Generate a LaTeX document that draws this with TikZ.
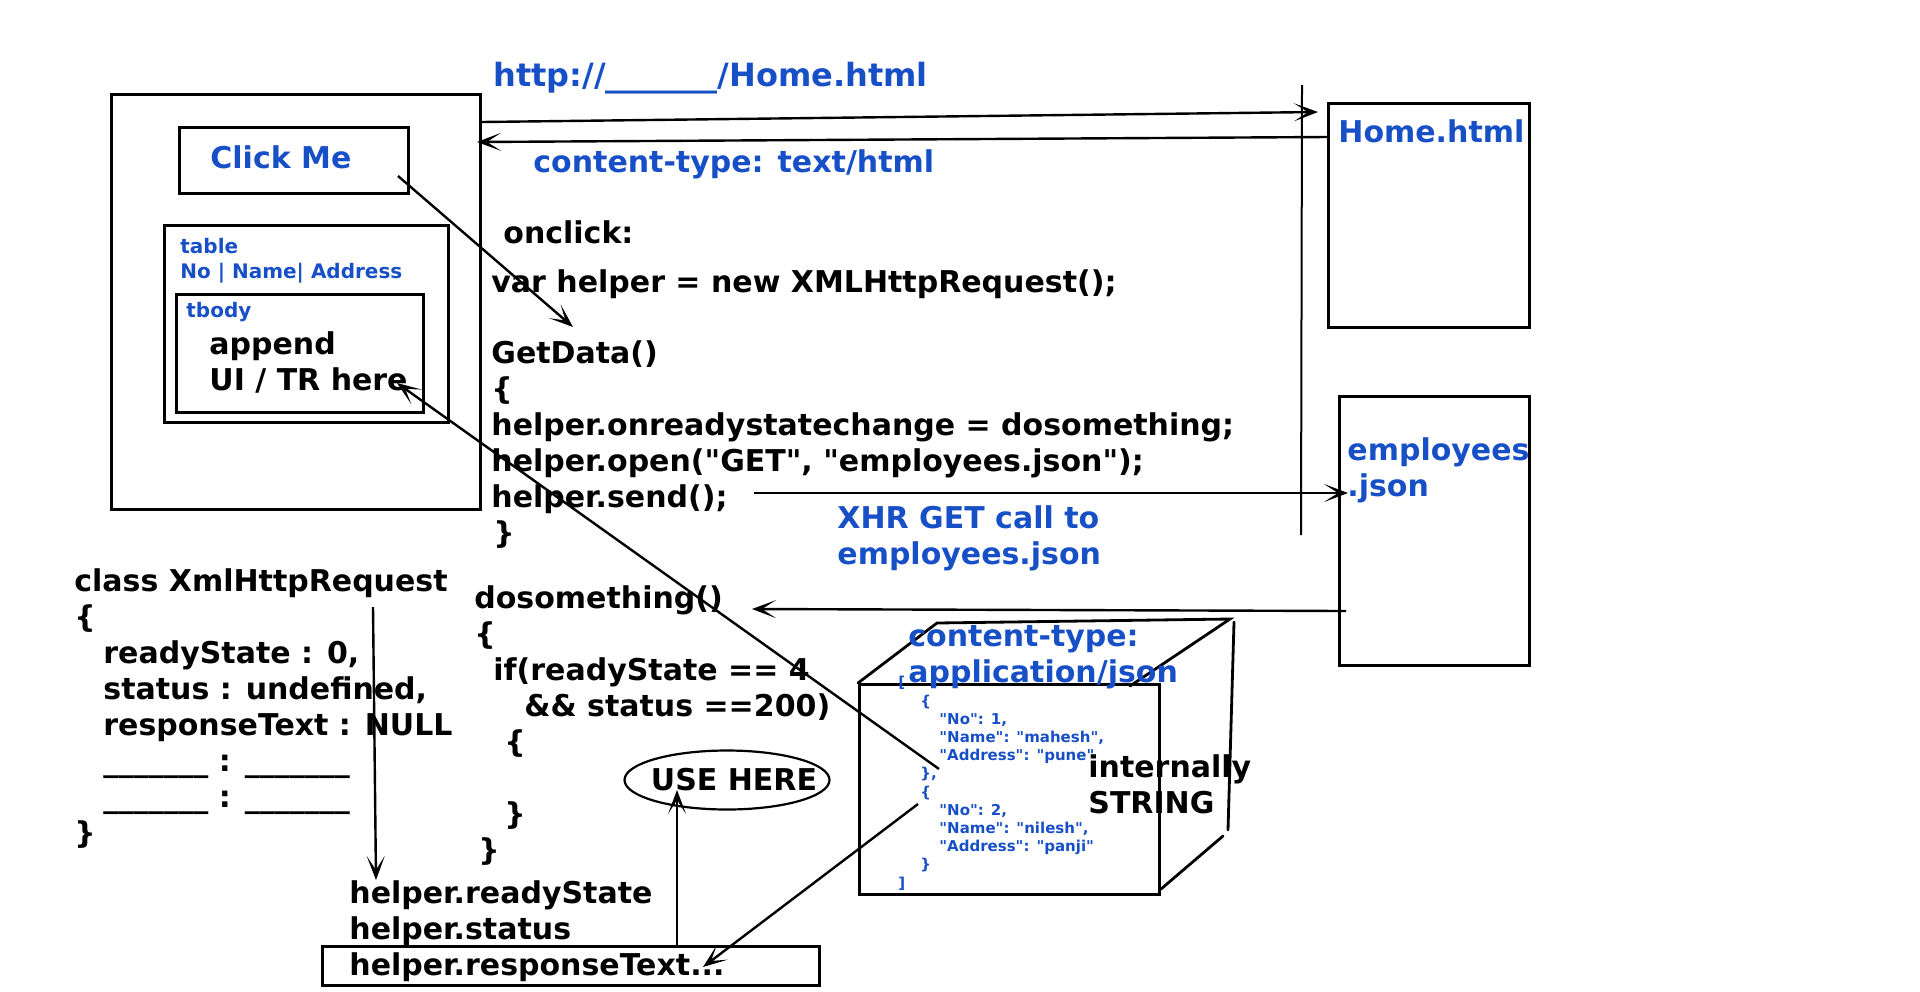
\documentclass[tikz,border=0pt]{standalone}
\usepackage{fontspec}
\setmainfont{DejaVu Sans}
\usetikzlibrary{arrows.meta,positioning,shapes.geometric}
\definecolor{labelblue}{RGB}{23,79,199}
\newcommand{\dquote}{\textquotedbl}

\begin{document}
\begin{tikzpicture}[
  x=0.5pt, y=-0.5pt,
  boxframe/.style={draw, line width=1.4pt, inner sep=0pt, anchor=north west},
  codetext/.style={anchor=base west, inner sep=0pt, align=left, font=\fontsize{15}{18}\selectfont\bfseries},
  bluetext/.style={codetext, text=labelblue},
  smalltext/.style={bluetext, font=\fontsize{10}{12.5}\selectfont\bfseries},
  jsontext/.style={bluetext, font=\fontsize{7.5}{9.1}\selectfont\bfseries},
  arrow/.style={line width=1.2pt,->,>={Stealth[length=12pt,width=9pt,inset=7pt]}},
  cubeline/.style={line width=1.4pt, line cap=round}
]
\useasboundingbox (0,0) rectangle (1920,991);

% browser page (multi-line texts sit on their last baseline)
\node[boxframe, minimum width=184.5pt, minimum height=207.5pt] (browser) at (110,93) {};
\node[boxframe, minimum width=114.5pt, minimum height=33pt] (clickbox) at (178,126) {};
\node[boxframe, minimum width=142pt, minimum height=98.5pt] (tablebox) at (163,224) {};
\node[boxframe, minimum width=123.5pt, minimum height=59pt] (tbodybox) at (175,293) {};
\node[bluetext] (clickme) at (210,168) {Click Me};
\node[smalltext] (tablehead) at (180,278) {table\\No | Name| Address};
\node[smalltext] (tbodyhead) at (186,317) {tbody};
\node[codetext] (append) at (209,390) {append\\UI / TR here};

% server side
\node[boxframe, minimum width=100.5pt, minimum height=112pt] (homefile) at (1327,102) {};
\node[boxframe, minimum width=95pt, minimum height=134.5pt] (jsonfile) at (1338,395) {};
\node[bluetext] (homename) at (1338,142) {Home.html};
\node[bluetext] (jsonname) at (1347,496) {employees\\.json};
\coordinate (divtop) at (1302,85);
\coordinate (divbot) at (1301,535);
\draw[line width=1pt] (divtop) -- (divbot);

\node[bluetext, font=\fontsize{16}{19}\selectfont\bfseries] (url) at (493,86) {http://\_\_\_\_\_\_\_/Home.html};
\node[bluetext] (htmltype) at (533,172) {content-type: text/html};

% script
\node[codetext] (onclick) at (503,243) {onclick:};
\node[codetext] (newhelper) at (491,292) {var helper = new XMLHttpRequest();};
\node[codetext] (getdata) at (491,543) {GetData()\\\{\\helper.onreadystatechange = dosomething;\\helper.open(\dquote GET\dquote, \dquote employees.json\dquote);\\helper.send();\\\hspace*{1pt}\}};
\node[bluetext] (xhrcall) at (837,564) {XHR GET call to\\employees.json};
\node[codetext] (xhrclass) at (74,843) {class XmlHttpRequest\\\{\\\hspace*{14.5pt}readyState : 0,\\\hspace*{14.5pt}status : undefined,\\\hspace*{14.5pt}responseText : NULL\\\hspace*{14.5pt}\_\_\_\_\_\_\_ : \_\_\_\_\_\_\_\\\hspace*{14.5pt}\_\_\_\_\_\_\_ : \_\_\_\_\_\_\_\\\}};
\node[codetext] (dosomething) at (474,860) {dosomething()\\\{\\\hspace*{9.5pt}if(readyState == 4\\\hspace*{25pt}\&\& status ==200)\\\hspace*{15pt}\{\\[18pt]\hspace*{15pt}\}\\\hspace*{2pt}\}};
\node[draw, ellipse, line width=1.1pt, minimum width=102.5pt, minimum height=29.5pt] (usehere) at (727,780) {};
\node[font=\fontsize{15}{18}\selectfont\bfseries, inner sep=0pt, xshift=3.5pt] (usetext) at (usehere.center) {USE HERE};
\node[boxframe, minimum width=248.5pt, minimum height=19.5pt] (respbox) at (321,945) {};
\node[codetext] (props) at (349,975) {helper.readyState\\helper.status\\helper.responseText...};

% json cube
\node[boxframe, minimum width=150pt, minimum height=105pt] (cubefront) at (858,683) {};
\coordinate (cubeA) at (937,623);
\coordinate (cubeB) at (1230,619);
\coordinate (cubeC) at (1130,686);
\coordinate (cubeD) at (1234,622);
\coordinate (cubeE) at (1228,830);
\coordinate (cubeF) at (1223,836);
\coordinate (cubeG) at (1161,889);
\draw[cubeline] (cubefront.north west) -- (cubeA) -- (cubeB) -- (cubeC);
\draw[cubeline] (cubeD) -- (cubeE);
\draw[cubeline] (cubeF) -- (cubeG);
\node[bluetext] (jsontype) at (908,682) {content-type:\\application/json};
\node[jsontext] (jsonbody) at (898,888) {[\\\hspace*{11pt}\{\\\hspace*{20.5pt}\dquote No\dquote: 1,\\\hspace*{20.5pt}\dquote Name\dquote: \dquote mahesh\dquote,\\\hspace*{20.5pt}\dquote Address\dquote: \dquote pune\dquote\\\hspace*{11pt}\},\\\hspace*{11pt}\{\\\hspace*{20.5pt}\dquote No\dquote: 2,\\\hspace*{20.5pt}\dquote Name\dquote: \dquote nilesh\dquote,\\\hspace*{20.5pt}\dquote Address\dquote: \dquote panji\dquote\\\hspace*{11pt}\}\\]};
\node[codetext] (internal) at (1088,813) {internally\\STRING};

% connectors
\coordinate (reqtail) at (482,122);
\coordinate (reqtip) at (1318,112);
\coordinate (restail) at (1327,137);
\coordinate (restip) at (477,142);
\coordinate (sendtail) at (754,493);
\coordinate (sendtip) at (1348,493);
\coordinate (cbtail) at (1346,611);
\coordinate (cbtip) at (752,609);
\coordinate (clicktail) at (398,176);
\coordinate (clicktip) at (573,327);
\coordinate (appendtail) at (939,769);
\coordinate (appendtip) at (397,383);
\coordinate (classtail) at (373,607);
\coordinate (classtip) at (376,880);
\coordinate (usetail) at (677,947);
\coordinate (usetip) at (677,790);
\coordinate (resptail) at (918,804);
\coordinate (resptip) at (703,967);

\draw[arrow] (reqtail) -- (reqtip);
\draw[arrow] (restail) -- (restip);
\draw[arrow] (sendtail) -- (sendtip);
\draw[arrow] (cbtail) -- (cbtip);
\draw[arrow] (clicktail) -- (clicktip);
\draw[arrow] (appendtail) -- (appendtip);
\draw[arrow] (classtail) -- (classtip);
\draw[arrow] (usetail) -- (usetip);
\draw[arrow] (resptail) -- (resptip);

\end{tikzpicture}
\end{document}
